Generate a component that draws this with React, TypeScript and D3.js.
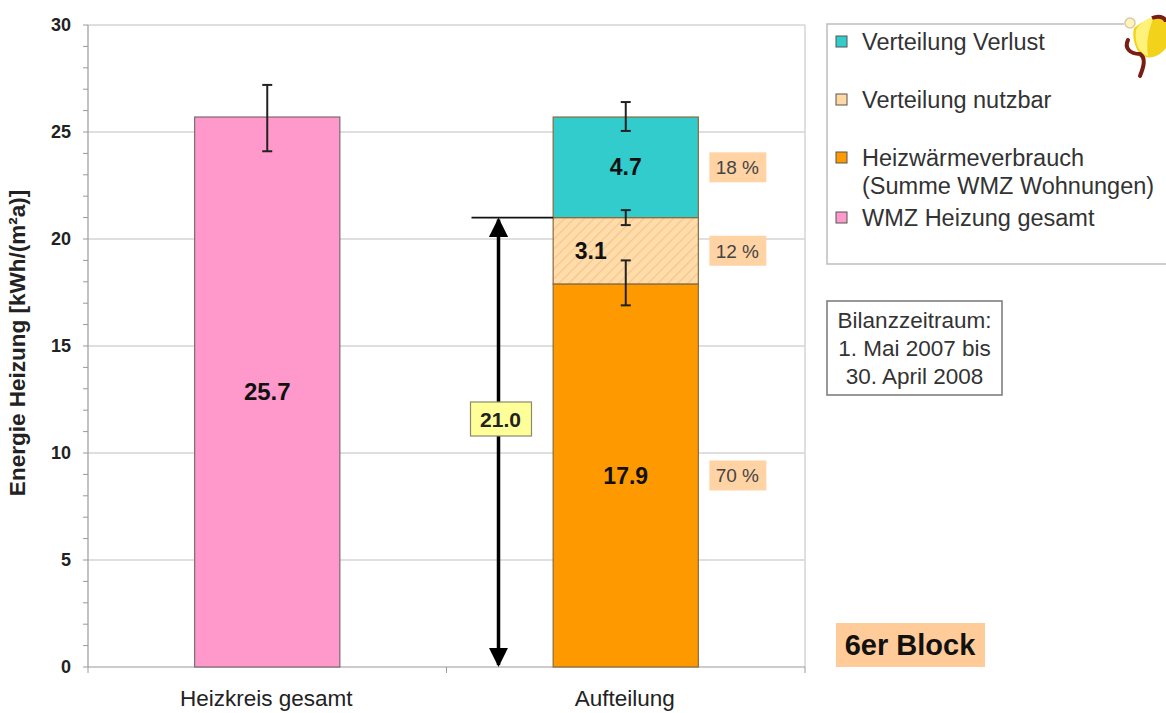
import React from "react";
import * as d3 from "d3";

const categories = ["Heizkreis gesamt", "Aufteilung"];
const totalValue = 25.7;
const stackSeries = ["Heizwärmeverbrauch", "Verteilung nutzbar", "Verteilung Verlust"];
const stackValues = [17.9, 3.1, 4.7];
const stackLabels = ["17.9", "3.1", "4.7"];
const percentLabels = ["70 %", "12 %", "18 %"];
const errCategory = [0, 1, 1, 1];
const errLow = [24.1, 16.9, 20.65, 25.05];
const errHigh = [27.2, 19.0, 21.35, 26.4];
const yTicks = [0, 5, 10, 15, 20, 25, 30];
const arrowValue = 21.0;
const arrowLabel = "21.0";
const legendItems = [
  { lines: ["Verteilung Verlust"], color: "#33CCCC", hatch: false },
  { lines: ["Verteilung nutzbar"], color: "#FFD8A4", hatch: true },
  { lines: ["Heizwärmeverbrauch", "(Summe WMZ Wohnungen)"], color: "#FF9900", hatch: false },
  { lines: ["WMZ Heizung gesamt"], color: "#FF99CC", hatch: false },
];
const periodLines = ["Bilanzzeitraum:", "1. Mai 2007 bis", "30. April 2008"];
const blockLabel = "6er Block";

const W = 1166;
const H = 713;
const plot = { left: 88, right: 805, top: 25, bottom: 667 };
const FONT = "'Liberation Sans', Arial, sans-serif";

export default function App() {
  const x = d3.scaleBand<string>().domain(categories).range([plot.left, plot.right]).padding(0);
  const y = d3.scaleLinear().domain([0, 30]).range([plot.bottom, plot.top]);
  const barW = x.bandwidth() * 0.405;
  const cx = (i: number) => (x(categories[i]) as number) + x.bandwidth() / 2;
  const minor = d3.range(0, 31, 1);
  const stackColors = ["#FF9900", "url(#hatch)", "#33CCCC"];
  let cum = 0;
  const stacks = stackValues.map((v, i) => {
    const s = { y0: cum, y1: cum + v, v, i, name: stackSeries[i] };
    cum += v;
    return s;
  });
  const bx1 = cx(1);
  const arrowX = plot.left + x.bandwidth() + 52;

  return (
    <svg width={W} height={H} style={{ position: "absolute", left: 0, top: 0, background: "#fff" }} fontFamily={FONT}>
      <defs>
        <pattern id="hatch" patternUnits="userSpaceOnUse" width="7" height="7" patternTransform="rotate(45)">
          <rect width="7" height="7" fill="#FFDCAA" />
          <line x1="0" y1="0" x2="0" y2="7" stroke="#F6C68A" strokeWidth="2.5" />
        </pattern>
        <marker id="ahead" viewBox="0 0 10 10" refX="9" refY="5" markerWidth="5.5" markerHeight="5.5" orient="auto-start-reverse" markerUnits="strokeWidth">
          <path d="M0,0 L10,5 L0,10 z" fill="#000" />
        </marker>
      </defs>
      <rect x={0} y={0} width={W} height={H} fill="#fff" />
      {/* grid */}
      {yTicks.filter((t) => t > 0).map((t) => (
        <line key={t} x1={plot.left} x2={plot.right} y1={y(t)} y2={y(t)} stroke="#d4d4d4" strokeWidth={1.5} />
      ))}
      <line x1={plot.right} x2={plot.right} y1={plot.top} y2={plot.bottom} stroke="#d4d4d4" strokeWidth={1.5} />
      {/* axes */}
      <line x1={plot.left} x2={plot.left} y1={plot.top} y2={plot.bottom} stroke="#9a9a9a" strokeWidth={1.2} />
      <line x1={plot.left} x2={plot.right} y1={plot.bottom} y2={plot.bottom} stroke="#9a9a9a" strokeWidth={1.2} />
      {minor.map((t) => (
        <line key={"m" + t} x1={plot.left - 5} x2={plot.left} y1={y(t)} y2={y(t)} stroke="#9a9a9a" strokeWidth={1} />
      ))}
      {[plot.left, plot.left + x.bandwidth(), plot.right].map((xx, i) => (
        <line key={"xt" + i} x1={xx} x2={xx} y1={plot.bottom} y2={plot.bottom + 6} stroke="#9a9a9a" strokeWidth={1} />
      ))}
      {yTicks.map((t) => (
        <text key={"l" + t} x={plot.left - 17} y={y(t)} dy="0.35em" textAnchor="end" fontSize={18} fontWeight="bold" fill="#222">
          {t}
        </text>
      ))}
      <text transform={`translate(25,343) rotate(-90)`} textAnchor="middle" fontSize={22.5} fontWeight="bold" fill="#222">
        Energie Heizung [kWh/(m²a)]
      </text>
      {categories.map((c, i) => (
        <text key={c} x={cx(i) - 1} y={706} textAnchor="middle" fontSize={22.5} fill="#222">
          {c}
        </text>
      ))}
      {/* bar 1 */}
      <rect x={cx(0) - barW / 2} y={y(totalValue)} width={barW} height={y(0) - y(totalValue)} fill="#FF99CC" stroke="#7a6a70" strokeWidth={1.2} />
      <text x={cx(0)} y={y(totalValue / 2)} dy="0.35em" textAnchor="middle" fontSize={24} fontWeight="bold" fill="#111">
        {totalValue.toFixed(1)}
      </text>
      {/* stacked bar */}
      {stacks.map((s) => (
        <rect key={s.i} x={bx1 - barW / 2} y={y(s.y1)} width={barW} height={y(s.y0) - y(s.y1)} fill={stackColors[s.i]} stroke="#8a6a40" strokeWidth={1.2} />
      ))}
      {stacks.map((s) => (
        <text key={"t" + s.i} x={s.i === 1 ? bx1 - 35 : bx1} y={y((s.y0 + s.y1) / 2)} dy="0.35em" textAnchor="middle" fontSize={23} fontWeight="bold" fill="#111">
          {stackLabels[s.i]}
        </text>
      ))}
      {stacks.map((s) => (
        <g key={"p" + s.i}>
          <rect x={bx1 + barW / 2 + 11} y={y((s.y0 + s.y1) / 2) - 15} width={57} height={30} fill="#FFD3A4" />
          <text x={bx1 + barW / 2 + 39} y={y((s.y0 + s.y1) / 2)} dy="0.36em" textAnchor="middle" fontSize={19} fill="#444">
            {percentLabels[s.i]}
          </text>
        </g>
      ))}
      {/* error bars */}
      {errLow.map((lo, i) => {
        const xx = cx(errCategory[i]);
        return (
          <g key={"e" + i} stroke="#222" strokeWidth={2}>
            <line x1={xx} x2={xx} y1={y(lo)} y2={y(errHigh[i])} />
            <line x1={xx - 5} x2={xx + 5} y1={y(lo)} y2={y(lo)} />
            <line x1={xx - 5} x2={xx + 5} y1={y(errHigh[i])} y2={y(errHigh[i])} />
          </g>
        );
      })}
      {/* dimension arrow */}
      <line x1={arrowX - 27} x2={bx1 - barW / 2} y1={y(arrowValue)} y2={y(arrowValue)} stroke="#111" strokeWidth={1.8} />
      <line x1={arrowX} x2={arrowX} y1={y(arrowValue) + 2} y2={y(0) - 2} stroke="#000" strokeWidth={3.5} markerStart="url(#ahead)" markerEnd="url(#ahead)" />
      <rect x={arrowX - 28} y={402} width={61} height={34} fill="#FFFF99" stroke="#8a8a6a" strokeWidth={1.2} />
      <text x={arrowX + 2} y={419} dy="0.36em" textAnchor="middle" fontSize={21} fontWeight="bold" fill="#222">
        {arrowLabel}
      </text>
      {/* legend */}
      <path d="M1124,24 L827,24 L827,264 L1170,264" fill="none" stroke="#bdbdbd" strokeWidth={1.5} />
      {legendItems.map((it, i) => {
        const cy = [42, 100, 158, 218][i];
        return (
          <g key={"lg" + i}>
            <rect x={836} y={cy - 6} width={11} height={11} fill={it.hatch ? "#FFD8A4" : it.color} stroke="#555" strokeWidth={1} />
            {it.lines.map((ln, j) => (
              <text key={j} x={862} y={cy + j * 28} dy="0.36em" fontSize={23.5} fill="#333">
                {ln}
              </text>
            ))}
          </g>
        );
      })}
      {/* logo */}
      <circle cx={1130} cy={23} r={5} fill="#FFF4C0" stroke="#d9c9a0" strokeWidth={1.5} />
      <path d="M1134,28 C1146,18 1162,14 1166,18 L1166,48 C1158,58 1148,60 1140,54 C1134,46 1132,36 1134,28 Z" fill="#F2D21A" />
      <path d="M1136,30 C1140,22 1148,18 1154,17 C1148,30 1146,44 1148,56 C1140,54 1134,44 1136,30 Z" fill="#FFF27A" />
      <path d="M1152,18 C1162,14 1166,20 1166,22" fill="none" stroke="#7a1e14" strokeWidth={4} />
      <path d="M1128,40 C1124,48 1130,54 1140,54 C1146,58 1144,66 1140,76" fill="none" stroke="#7a1e14" strokeWidth={4} strokeLinecap="round" />
      {/* period box */}
      <rect x={827} y={301} width={175} height={94} fill="#fff" stroke="#777" strokeWidth={1.5} />
      {periodLines.map((ln, i) => (
        <text key={"pl" + i} x={914.5} y={320 + i * 28} dy="0.36em" textAnchor="middle" fontSize={22.5} fill="#333">
          {ln}
        </text>
      ))}
      {/* block label */}
      <rect x={836} y={623} width={149} height={44} fill="#FFCC99" />
      <text x={910} y={645} dy="0.36em" textAnchor="middle" fontSize={29} fontWeight="bold" fill="#111">
        {blockLabel}
      </text>
    </svg>
  );
}
